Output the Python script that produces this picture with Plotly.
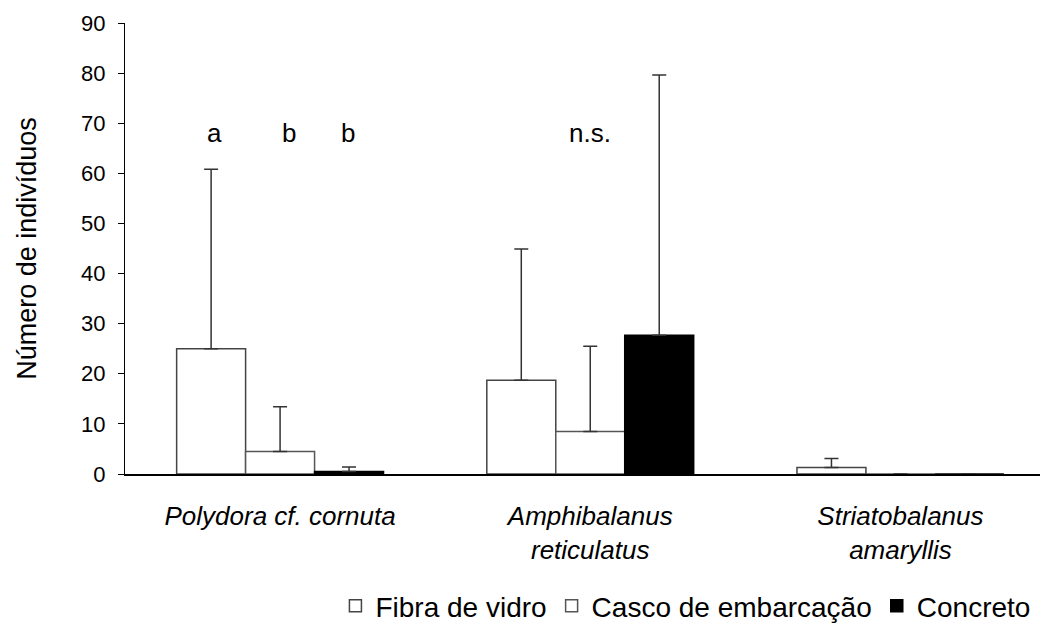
import plotly.graph_objects as go

categories = ["Polydora cf. cornuta", "Amphibalanus reticulatus", "Striatobalanus amaryllis"]
tick_labels = ["<i>Polydora cf. cornuta</i>", "<i>Amphibalanus</i><br><i>reticulatus</i>", "<i>Striatobalanus</i><br><i>amaryllis</i>"]

fibra = [25.0, 18.7, 1.3]
fibra_err = [35.8, 26.2, 1.8]
casco = [4.5, 8.5, 0.0]
casco_err = [8.9, 17.0, 0.0]
concreto = [0.5, 27.7, 0.0]
concreto_err = [0.9, 51.9, 0.0]

sig_labels = ["a", "b", "b", "n.s."]
sig_x = [-0.21, 0.03, 0.22, 1.0]
sig_y = [68, 68, 68, 68]

font_family = "Liberation Sans, Arial, sans-serif"

fig = go.Figure()
series = [
    ("Fibra de vidro", fibra, fibra_err, "white", "#444444"),
    ("Casco de embarcação", casco, casco_err, "white", "#555555"),
    ("Concreto", concreto, concreto_err, "black", "black"),
]
for name, vals, errs, fill, line in series:
    fig.add_trace(go.Bar(
        name=name, x=categories, y=vals,
        marker=dict(color=fill, line=dict(color=line, width=1.5)),
        error_y=dict(type="data", symmetric=False, array=errs, arrayminus=[0]*len(errs),
                     color="#333333", thickness=1.5, width=7),
    ))

for t, x, y in zip(sig_labels, sig_x, sig_y):
    fig.add_annotation(text=t, x=x, y=y, xref="x", yref="y", showarrow=False,
                       font=dict(size=26, color="black", family=font_family))

fig.update_layout(
    width=1047, height=626,
    margin=dict(l=125, r=7, t=23, b=152, autoexpand=False),
    paper_bgcolor="white", plot_bgcolor="white",
    barmode="group", bargap=0.333, bargroupgap=0,
    font=dict(family=font_family, color="black"),
    showlegend=True,
    legend=dict(orientation="h", x=0.995, xanchor="right",
                yref="container", y=0.032, yanchor="middle",
                font=dict(size=28, family=font_family), itemwidth=30,
                bgcolor="rgba(0,0,0,0)"),
)
fig.update_xaxes(
    tickvals=categories, ticktext=tick_labels, range=[-0.5, 2.45],
    showline=True, linecolor="black", linewidth=1.5, ticks="",
    tickfont=dict(size=26, family=font_family), ticklabelstandoff=18,
    showgrid=False, zeroline=False, automargin=False,
)
fig.update_yaxes(
    range=[0, 90], tickvals=[0, 10, 20, 30, 40, 50, 60, 70, 80, 90],
    showline=True, linecolor="black", linewidth=1.2, ticks="outside", ticklen=6,
    tickcolor="black", tickfont=dict(size=22, family=font_family), ticklabelstandoff=8,
    showgrid=False, zeroline=False, automargin=False,
    title=dict(text="Número de indivíduos", font=dict(size=27, family=font_family), standoff=36),
)

fig.write_html("out.html")
